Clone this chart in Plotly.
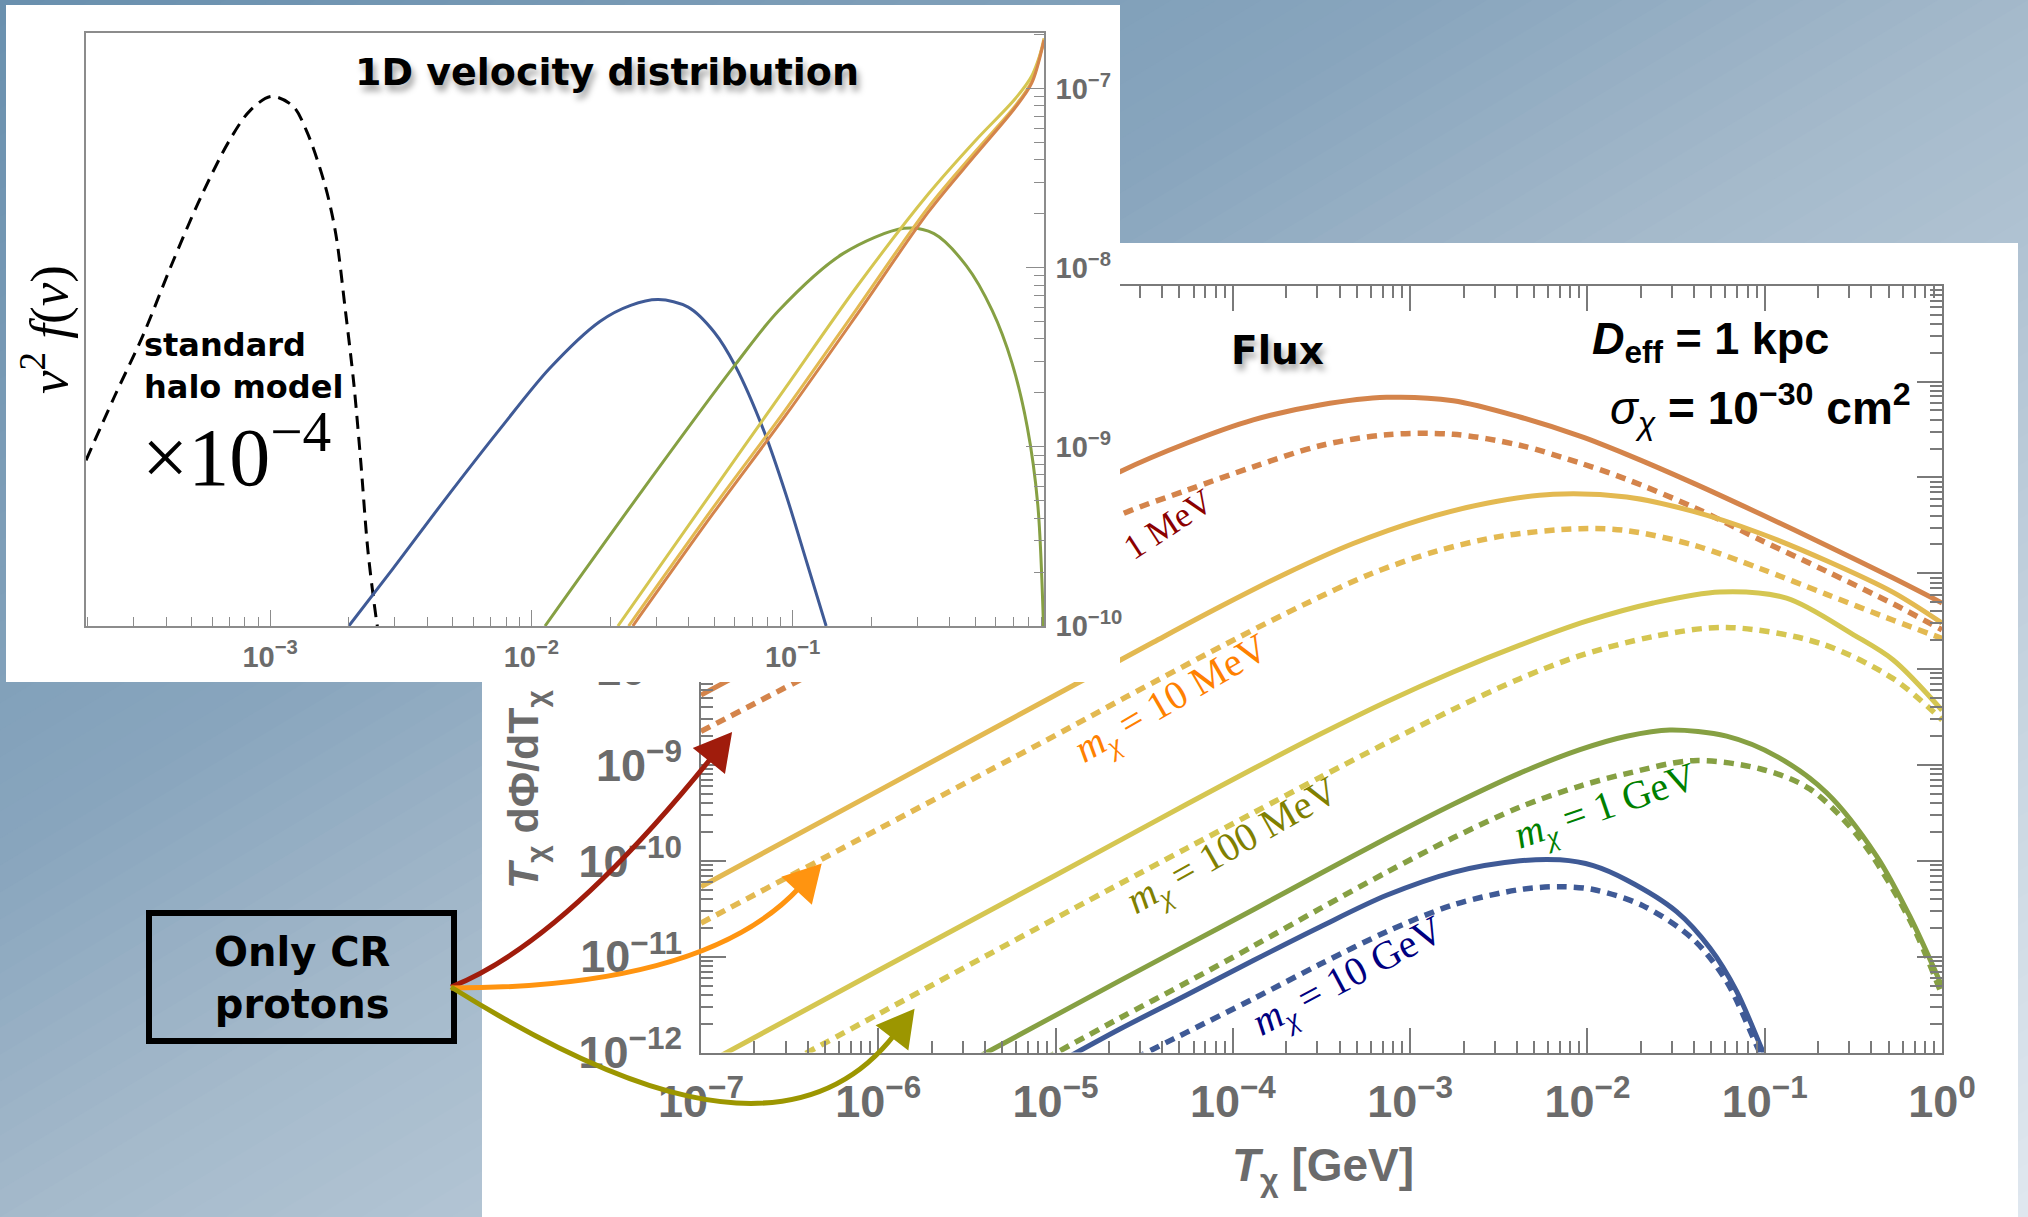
import numpy as np
import plotly.graph_objects as go

W, H = 2028, 1217

# ---------------- Main panel data: log10(T_chi / GeV) and log10(T dPhi/dT) ----------------
logT_1MeV_solid = [-7.0, -6.0, -5.0, -4.637, -4.261, -3.885, -3.509, -3.133, -2.757, -2.381, -2.042, -1.779, -1.403, -1.027, -0.651, -0.275, 0.0]
logF_1MeV_solid = [-8.27, -7.28, -6.29, -5.94, -5.644, -5.40, -5.245, -5.165, -5.20, -5.37, -5.57, -5.76, -6.06, -6.38, -6.71, -7.05, -7.31]
logT_1MeV_dashed = [-7.0, -6.0, -5.0, -4.637, -4.261, -3.885, -3.509, -3.133, -2.757, -2.381, -2.042, -1.779, -1.403, -1.027, -0.651, -0.275, 0.0]
logF_1MeV_dashed = [-8.65, -7.69, -6.74, -6.392, -6.135, -5.89, -5.67, -5.555, -5.55, -5.665, -5.85, -6.02, -6.31, -6.65, -6.98, -7.32, -7.59]

logT_10MeV_solid = [-7.0, -6.0, -5.0, -4.449, -4.073, -3.697, -3.321, -2.945, -2.568, -2.193, -1.779, -1.403, -1.027, -0.651, -0.275, 0.0]
logF_10MeV_solid = [-10.27, -9.27, -8.27, -7.72, -7.35, -7.00, -6.69, -6.445, -6.27, -6.175, -6.205, -6.355, -6.583, -6.87, -7.20, -7.52]
logT_10MeV_dashed = [-7.0, -6.0, -5.0, -4.599, -3.979, -3.603, -3.227, -2.851, -2.475, -2.042, -1.779, -1.403, -1.027, -0.651, -0.275, 0.0]
logF_10MeV_dashed = [-10.65, -9.67, -8.69, -8.288, -7.68, -7.33, -7.01, -6.77, -6.61, -6.535, -6.555, -6.705, -6.95, -7.22, -7.49, -7.68]

logT_100MeV_solid = [-7.0, -6.0, -5.0, -4.637, -4.261, -3.885, -3.509, -3.133, -2.757, -2.381, -2.005, -1.629, -1.253, -0.877, -0.501, -0.275, 0.0]
logF_100MeV_solid = [-12.145, -11.145, -10.15, -9.787, -9.41, -9.04, -8.68, -8.34, -8.03, -7.75, -7.50, -7.31, -7.195, -7.26, -7.64, -7.905, -8.43]
logT_100MeV_dashed = [-7.0, -6.0, -5.0, -4.637, -4.261, -3.885, -3.509, -3.133, -2.757, -2.381, -2.042, -1.629, -1.215, -0.689, -0.275, 0.0]
logF_100MeV_dashed = [-12.6, -11.6, -10.6, -10.24, -9.87, -9.50, -9.13, -8.77, -8.42, -8.10, -7.86, -7.66, -7.565, -7.73, -8.10, -8.53]

logT_1GeV_solid = [-7.0, -6.0, -5.389, -4.637, -4.261, -3.885, -3.509, -3.133, -2.757, -2.381, -2.042, -1.779, -1.535, -1.215, -0.933, -0.651, -0.369, -0.181, 0.0]
logF_1GeV_solid = [-13.61, -12.61, -12.0, -11.25, -10.88, -10.51, -10.135, -9.765, -9.41, -9.085, -8.84, -8.70, -8.635, -8.70, -8.91, -9.29, -9.95, -10.58, -11.31]
logT_1GeV_dashed = [-7.0, -6.0, -4.994, -4.637, -4.261, -3.885, -3.509, -3.133, -2.757, -2.381, -2.042, -1.779, -1.403, -1.027, -0.746, -0.463, -0.181, 0.0]
logF_1GeV_dashed = [-14.0, -13.0, -12.0, -11.64, -11.27, -10.89, -10.50, -10.12, -9.76, -9.44, -9.22, -9.09, -8.955, -9.04, -9.25, -9.77, -10.62, -11.40]

logT_10GeV_solid = [-7.0, -6.0, -4.881, -4.637, -4.261, -3.885, -3.509, -3.133, -2.757, -2.381, -2.155, -1.967, -1.779, -1.497, -1.309, -1.159, -1.008, -0.90]
logF_10GeV_solid = [-14.12, -13.12, -12.0, -11.755, -11.40, -11.04, -10.69, -10.36, -10.12, -10.00, -9.99, -10.05, -10.20, -10.53, -10.91, -11.36, -12.0, -12.45]
logT_10GeV_dashed = [-7.0, -6.0, -4.486, -4.261, -3.885, -3.509, -3.133, -2.757, -2.381, -2.155, -1.967, -1.685, -1.403, -1.215, -1.027, -0.92]
logF_10GeV_dashed = [-14.5, -13.5, -12.0, -11.79, -11.44, -11.08, -10.74, -10.46, -10.30, -10.27, -10.30, -10.47, -10.82, -11.26, -12.0, -12.4]

# ---------------- Inset data: log10(v) and log10(v^2 f(v)) ----------------
logv_shm = [-3.705, -3.596, -3.486, -3.377, -3.268, -3.158, -3.077, -2.995, -2.913, -2.858, -2.790, -2.749, -2.713, -2.680, -2.653, -2.626, -2.593, -2.585]
logf_shm_x1e4 = [-9.075, -8.719, -8.375, -7.982, -7.614, -7.295, -7.123, -7.044, -7.098, -7.246, -7.540, -7.810, -8.228, -8.645, -9.087, -9.578, -9.971, -10.04]
logv_10GeV = [-2.699, -2.530, -2.339, -2.120, -1.929, -1.738, -1.620, -1.514, -1.400, -1.300, -1.219, -1.109, -1.027, -0.945, -0.872]
logf_10GeV = [-10.0, -9.68, -9.31, -8.90, -8.56, -8.30, -8.21, -8.178, -8.22, -8.36, -8.55, -8.915, -9.26, -9.65, -10.0]
logv_1GeV = [-1.948, -1.574, -1.219, -1.054, -0.806, -0.573, -0.459, -0.335, -0.236, -0.161, -0.102, -0.062, -0.040]
logf_1GeV = [-10.0, -9.24, -8.54, -8.24, -7.92, -7.78, -7.81, -7.99, -8.24, -8.53, -8.89, -9.32, -10.0]
logv_100MeV = [-1.669, -1.300, -1.027, -0.754, -0.481, -0.300, -0.150, -0.085, -0.038]
logf_100MeV = [-10.0, -9.234, -8.670, -8.105, -7.589, -7.29, -7.06, -6.93, -6.74]
logv_10MeV = [-1.628, -1.301, -1.027, -0.754, -0.481, -0.300, -0.150, -0.085, -0.038]
logf_10MeV = [-10.0, -9.332, -8.792, -8.228, -7.663, -7.35, -7.10, -6.96, -6.72]
logv_1MeV = [-1.612, -1.301, -1.027, -0.754, -0.481, -0.300, -0.150, -0.085, -0.038]
logf_1MeV = [-10.0, -9.365, -8.825, -8.262, -7.690, -7.37, -7.11, -6.97, -6.73]

main_ticks_x = list(range(-7, 1))
main_ticks_y = list(range(-12, -3))
inset_ticks_x = [-3, -2, -1]
inset_ticks_y = [-10, -9, -8, -7]

# ---------------- helpers ----------------
def px(X):
    return X / W

def py(Y):
    return 1 - Y / H

def sup10(n):
    return "10<sup>" + ("\u2212" if n < 0 else "") + str(abs(n)) + "</sup>"

def minor_vals(lo, hi):
    return [k * 10.0 ** n for n in range(lo, hi) for k in range(2, 10)]

C_1MeV = "#d4844b"
C_10MeV = "#e3b951"
C_100MeV = "#d5c651"
C_1GeV = "#86a043"
C_10GeV = "#3f5a96"
GRAY = "#6b6b6b"
AXFONT = "Liberation Sans Narrow, Liberation Sans, Arial, sans-serif"
SERIF = "Liberation Serif, DejaVu Serif, serif"
GILL = "DejaVu Sans, Lato, sans-serif"

fig = go.Figure()

main_series = [
    (logT_1MeV_solid, logF_1MeV_solid, C_1MeV, "solid"),
    (logT_1MeV_dashed, logF_1MeV_dashed, C_1MeV, "dash"),
    (logT_10MeV_solid, logF_10MeV_solid, C_10MeV, "solid"),
    (logT_10MeV_dashed, logF_10MeV_dashed, C_10MeV, "dash"),
    (logT_100MeV_solid, logF_100MeV_solid, C_100MeV, "solid"),
    (logT_100MeV_dashed, logF_100MeV_dashed, C_100MeV, "dash"),
    (logT_1GeV_solid, logF_1GeV_solid, C_1GeV, "solid"),
    (logT_1GeV_dashed, logF_1GeV_dashed, C_1GeV, "dash"),
    (logT_10GeV_solid, logF_10GeV_solid, C_10GeV, "solid"),
    (logT_10GeV_dashed, logF_10GeV_dashed, C_10GeV, "dash"),
]
for lt, lf, col, style in main_series:
    fig.add_trace(go.Scatter(
        x=10.0 ** np.array(lt), y=10.0 ** np.array(lf), mode="lines",
        line=dict(color=col, width=5 if style == "solid" else 5.5,
                  dash="solid" if style == "solid" else "10px,7px",
                  shape="spline", smoothing=0.9),
        xaxis="x", yaxis="y", hoverinfo="skip", showlegend=False))

# white inset panel (its subplot sits between the main plot and the inset plot)
fig.add_trace(go.Scatter(
    x=[0, 1, 1, 0, 0], y=[0, 0, 1, 1, 0], mode="lines", fill="toself",
    fillcolor="white", line=dict(color="white", width=0),
    xaxis="x2", yaxis="y2", hoverinfo="skip", showlegend=False))

inset_series = [
    (logv_shm, logf_shm_x1e4, "black", "13px,8px"),
    (logv_10GeV, logf_10GeV, C_10GeV, "solid"),
    (logv_1GeV, logf_1GeV, C_1GeV, "solid"),
    (logv_100MeV, logf_100MeV, C_100MeV, "solid"),
    (logv_10MeV, logf_10MeV, C_10MeV, "solid"),
    (logv_1MeV, logf_1MeV, C_1MeV, "solid"),
]
for lv, lf, col, dash in inset_series:
    fig.add_trace(go.Scatter(
        x=10.0 ** np.array(lv), y=10.0 ** np.array(lf), mode="lines",
        line=dict(color=col, width=3, dash=dash, shape="spline", smoothing=0.9),
        xaxis="x3", yaxis="y3", hoverinfo="skip", showlegend=False))

# ---------------- axes ----------------
main_common = dict(type="log", showgrid=False, zeroline=False, showline=True, automargin=False,
                   linecolor="#7a7a7a", linewidth=2, mirror="ticks", ticks="inside",
                   ticklen=25, tickwidth=1.5, tickcolor="#7a7a7a",
                   tickfont=dict(family=AXFONT, size=45, color=GRAY, weight="bold"),
                   ticklabelstandoff=8)
fig.update_layout(
    xaxis=dict(main_common, range=[-7, 0], domain=[px(701), px(1942)], anchor="y",
               tickmode="array", tickvals=[10.0 ** n for n in main_ticks_x],
               ticktext=[sup10(n) for n in main_ticks_x],
               minor=dict(ticks="inside", ticklen=12, tickwidth=1.5, tickcolor="#7a7a7a",
                          tickmode="array", tickvals=minor_vals(-7, 0))),
    yaxis=dict(main_common, range=[-12, -4], domain=[py(1052.5), py(285.7)], anchor="x",
               tickmode="array", tickvals=[10.0 ** n for n in main_ticks_y],
               ticktext=[sup10(n) for n in main_ticks_y],
               minor=dict(ticks="inside", ticklen=12, tickwidth=1.5, tickcolor="#7a7a7a",
                          tickmode="array", tickvals=minor_vals(-12, -4))),
    xaxis2=dict(range=[0, 1], domain=[px(6), px(1120)], anchor="y2", visible=False,
                fixedrange=True, automargin=False),
    yaxis2=dict(range=[0, 1], domain=[py(682), py(5)], anchor="x2", visible=False,
                fixedrange=True, automargin=False),
)
inset_common = dict(type="log", showgrid=False, zeroline=False, showline=True, automargin=False,
                    linecolor="#8c8c8c", linewidth=1.5, mirror=True, ticks="inside",
                    tickwidth=1.2, tickcolor="#8c8c8c",
                    tickfont=dict(family=AXFONT, size=29, color=GRAY, weight="bold"),
                    ticklabelstandoff=4)
fig.update_layout(
    xaxis3=dict(inset_common, range=[-3.705, -0.038], domain=[px(86), px(1044)], anchor="y3",
                ticklen=16, tickmode="array", tickvals=[10.0 ** n for n in inset_ticks_x],
                ticktext=[sup10(n) for n in inset_ticks_x],
                minor=dict(ticks="inside", ticklen=9, tickwidth=1.2, tickcolor="#8c8c8c",
                           tickmode="array", tickvals=minor_vals(-4, 0))),
    yaxis3=dict(inset_common, range=[-10, -6.69], domain=[py(626), py(33)], anchor="x3",
                side="right", ticklen=18, tickmode="array",
                tickvals=[10.0 ** n for n in inset_ticks_y],
                ticktext=[sup10(n) for n in inset_ticks_y],
                minor=dict(ticks="inside", ticklen=10, tickwidth=1.2, tickcolor="#8c8c8c",
                           tickmode="array", tickvals=minor_vals(-10, -6))),
)

# ---------------- background shapes ----------------
shapes = []
stops = [(0.0, (106, 144, 174)), (0.35, (136, 165, 189)), (0.5, (164, 185, 203)), (1.0, (224, 232, 239))]

def grad(t):
    for (t0, c0), (t1, c1) in zip(stops[:-1], stops[1:]):
        if t <= t1:
            f = (t - t0) / (t1 - t0)
            return "rgb(%d,%d,%d)" % tuple(round(a + f * (b - a)) for a, b in zip(c0, c1))
    return "rgb(%d,%d,%d)" % stops[-1][1]

NB = 90
for i in range(NB):
    t = i / NB
    a = 2 * t - 1
    shapes.append(dict(type="path", xref="paper", yref="paper", layer="below",
                       path=f"M {a-0.2:.4f},-0.2 L {a+1.2:.4f},1.2 L 3,1.2 L 3,-0.2 Z",
                       fillcolor=grad(t + 0.5 / NB), line=dict(width=0)))
shapes.append(dict(type="rect", xref="paper", yref="paper", layer="below",
                   x0=px(482), x1=px(2018), y0=-0.01, y1=py(243),
                   fillcolor="white", line=dict(width=0)))
shapes.append(dict(type="rect", xref="paper", yref="paper", layer="above",
                   x0=px(149), x1=px(454), y0=py(1041), y1=py(913),
                   fillcolor="rgba(0,0,0,0)", line=dict(color="black", width=6)))

def P(X, Y):
    return f"{px(X):.5f},{py(Y):.5f}"

def arrow(points, color, cubic=True):
    if cubic:
        p0, p1, p2, p3 = points
        path = f"M {P(*p0)} C {P(*p1)} {P(*p2)} {P(*p3)}"
        d = np.array(p3) - np.array(p2)
    else:
        p0, p1, p3 = points
        path = f"M {P(*p0)} Q {P(*p1)} {P(*p3)}"
        d = np.array(p3) - np.array(p1)
    d = d / np.hypot(*d)
    n = np.array([-d[1], d[0]])
    e = np.array(p3)
    tip = e + 30 * d
    b1 = e - 4 * d + 19 * n
    b2 = e - 4 * d - 19 * n
    shapes.append(dict(type="path", xref="paper", yref="paper", layer="above", path=path,
                       line=dict(color=color, width=5)))
    shapes.append(dict(type="path", xref="paper", yref="paper", layer="above",
                       path=f"M {P(*tip)} L {P(*b1)} L {P(*b2)} Z",
                       fillcolor=color, line=dict(color=color, width=2)))

arrow([(451, 987), (562, 943), (712, 757)], "#a01c0c", cubic=False)
arrow([(451, 988), (707, 988), (800, 887)], "#ff9410", cubic=False)
arrow([(451, 987), (600, 1080), (790, 1170), (895, 1034)], "#9c9600", cubic=True)

# ---------------- annotations ----------------
def note(text, X, Y, size, color="black", family=GILL, weight="normal", angle=0,
         xanchor="center", yanchor="middle", shadow=None, align="center"):
    font = dict(size=size, color=color, family=family, weight=weight)
    if shadow:
        font["shadow"] = shadow
    return dict(text=text, x=px(X), y=py(Y), xref="paper", yref="paper", showarrow=False,
                xanchor=xanchor, yanchor=yanchor, textangle=angle, font=font, align=align)

chi = "\u03c7"
anns = [
    note("1D velocity distribution", 607, 72, 38, weight="bold",
         shadow="3px 6px 6px rgba(0,0,0,0.35)"),
    note("standard<br>halo model", 142, 366, 32, weight="bold", xanchor="left", align="left"),
    note("\u00d710<sup>\u22124</sup>", 236, 452, 82, family=SERIF),
    note("<i>v</i><sup>2</sup> <i>f</i>(<i>v</i>)", 46, 330, 53, family=SERIF, angle=-90),
    note("Flux", 1277, 350, 39, weight="bold", shadow="3px 6px 6px rgba(0,0,0,0.35)"),
    note("<b><i>D</i><sub>eff</sub> = 1 kpc</b>", 1590, 342, 45,
         family="Liberation Sans, Arial, sans-serif", xanchor="left"),
    note("<i>\u03c3</i><sub><i>" + chi + "</i></sub> <b>= 10<sup>\u221230</sup> cm<sup>2</sup></b>",
         1608, 408, 46, family="Liberation Sans, Arial, sans-serif", xanchor="left"),
    note("1 MeV", 1168, 524, 35, color="#8b0000", family=SERIF, angle=-33),
    note("<i>m</i><sub><i>" + chi + "</i></sub> = 10 MeV", 1172, 700, 40, color="#ff8000",
         family=SERIF, angle=-30),
    note("<i>m</i><sub><i>" + chi + "</i></sub> = 100 MeV", 1233, 847, 40, color="#808000",
         family=SERIF, angle=-29.5),
    note("<i>m</i><sub><i>" + chi + "</i></sub> = 1 GeV", 1605, 808, 40, color="#008000",
         family=SERIF, angle=-19),
    note("<i>m</i><sub><i>" + chi + "</i></sub> = 10 GeV", 1348, 978, 40, color="#000080",
         family=SERIF, angle=-28),
    note("<i>T</i><sub>" + chi + "</sub> d\u03a6/dT<sub>" + chi + "</sub>", 526, 891, 43,
         color=GRAY, family=AXFONT, weight="bold", angle=-90, yanchor="bottom"),
    note("<i>T</i><sub>" + chi + "</sub> [GeV]", 1323, 1168, 46, color=GRAY, family=AXFONT,
         weight="bold"),
    note("Only CR<br>protons", 302, 978, 40, weight="bold"),
]

fig.update_layout(
    template="none",
    width=W, height=H, autosize=False,
    margin=dict(l=0, r=0, t=0, b=0, pad=0),
    paper_bgcolor="rgb(106,144,174)", plot_bgcolor="rgba(0,0,0,0)",
    showlegend=False, shapes=shapes, annotations=anns,
)

fig.write_html("out.html", config={"responsive": False, "displayModeBar": False},
               post_script="document.body.style.margin='0';document.body.style.overflow='hidden';")
